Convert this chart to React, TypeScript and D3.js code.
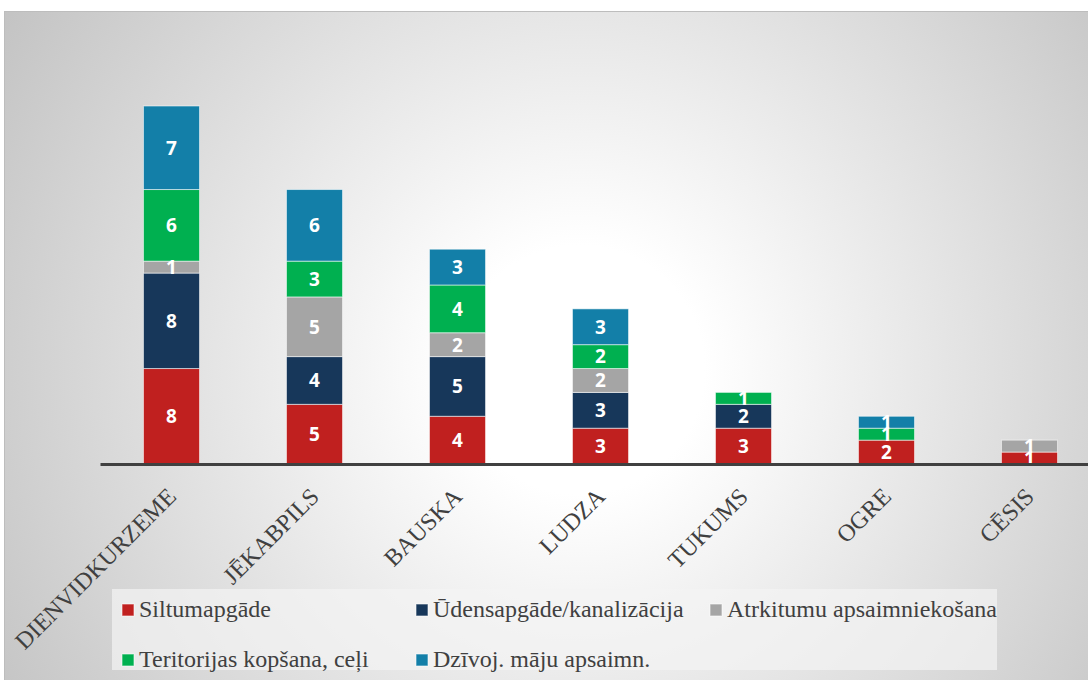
import { useEffect, useRef } from "react";
import * as d3 from "d3";

const categories = ["DIENVIDKURZEME", "JĒKABPILS", "BAUSKA", "LUDZA", "TUKUMS", "OGRE", "CĒSIS"];
const seriesNames = [
  "Siltumapgāde",
  "Ūdensapgāde/kanalizācija",
  "Atrkitumu apsaimniekošana",
  "Teritorijas kopšana, ceļi",
  "Dzīvoj. māju apsaimn.",
];
const siltumapgade = [8, 5, 4, 3, 3, 2, 1];
const udensapgade = [8, 4, 5, 3, 2, 0, 0];
const atkritumi = [1, 5, 2, 2, 0, 0, 1];
const teritorijas = [6, 3, 4, 2, 1, 1, 0];
const dzivojamas = [7, 6, 3, 3, 0, 1, 0];
const seriesColors = ["#C0201F", "#17375A", "#A5A5A5", "#00B050", "#137FA8"];

export default function App() {
  const svgRef = useRef<SVGSVGElement | null>(null);

  useEffect(() => {
    if (!svgRef.current) return;
    const svg = d3.select(svgRef.current);
    svg.selectAll("*").remove();

    const width = 1088;
    const height = 680;
    const axisY = 464;
    const values = [siltumapgade, udensapgade, atkritumi, teritorijas, dzivojamas];
    const rows = categories.map((name, i) => {
      const row: Record<string, number | string> = { name };
      seriesNames.forEach((s, k) => (row[s] = values[k][i]));
      return row;
    });

    // background with radial glow
    const defs = svg.append("defs");
    const grad = defs
      .append("radialGradient")
      .attr("id", "bg")
      .attr("gradientUnits", "userSpaceOnUse")
      .attr("cx", 580)
      .attr("cy", 370)
      .attr("r", 690);
    grad.append("stop").attr("offset", 0).attr("stop-color", "#ffffff");
    grad.append("stop").attr("offset", 0.18).attr("stop-color", "#ffffff");
    grad.append("stop").attr("offset", 1).attr("stop-color", "#c2c2c2");

    svg
      .append("rect")
      .attr("x", 4.5)
      .attr("y", 11.5)
      .attr("width", width - 4)
      .attr("height", height - 11)
      .attr("fill", "url(#bg)")
      .attr("stroke", "#bdbdbd")
      .attr("stroke-width", 1);

    const x = d3
      .scaleBand<string>()
      .domain(categories)
      .range([100, 1101])
      .paddingInner(0.608)
      .paddingOuter(0.304);
    const y = d3.scaleLinear().domain([0, 30]).range([axisY, 106]);

    const stacked = d3.stack<Record<string, number | string>>().keys(seriesNames)(rows as any);

    const layers = svg
      .append("g")
      .selectAll("g.layer")
      .data(stacked)
      .enter()
      .append("g")
      .attr("class", "layer")
      .attr("fill", (_, k) => seriesColors[k]);

    layers
      .selectAll("rect")
      .data((d) => d.filter((p) => p[1] - p[0] > 0))
      .enter()
      .append("rect")
      .attr("x", (p) => x(String(p.data.name)) ?? 0)
      .attr("y", (p) => y(p[1]))
      .attr("width", x.bandwidth())
      .attr("height", (p) => y(p[0]) - y(p[1]))
      .attr("stroke", "rgba(255,255,255,0.55)")
      .attr("stroke-width", 1);

    // value labels
    svg
      .append("g")
      .selectAll("g.lbl")
      .data(stacked)
      .enter()
      .append("g")
      .selectAll("text")
      .data((d) => d.filter((p) => p[1] - p[0] > 0))
      .enter()
      .append("text")
      .attr("x", (p) => (x(String(p.data.name)) ?? 0) + x.bandwidth() / 2)
      .attr("y", (p) => (y(p[0]) + y(p[1])) / 2)
      .attr("dy", "0.36em")
      .attr("text-anchor", "middle")
      .attr("fill", "#ffffff")
      .style("font-family", "'Open Sans', sans-serif")
      .style("font-weight", "700")
      .style("font-size", "19px")
      .text((p) => String(p[1] - p[0]));

    // category axis
    svg
      .append("g")
      .attr("transform", `translate(0,${axisY})`)
      .call(d3.axisBottom(x).tickSize(0).tickSizeOuter(0))
      .call((axis) => axis.select(".domain").attr("stroke", "#404040").attr("stroke-width", 3))
      .call((axis) =>
        axis
          .selectAll("text")
          .attr("x", 0)
          .attr("y", 0)
          .attr("dy", "0")
          .attr("text-anchor", "end")
          .attr("transform", "translate(6,34) rotate(-45)")
          .attr("fill", "#404040")
          .style("font-family", "'Liberation Serif', 'Times New Roman', serif")
          .style("font-size", "24px"),
      );

    // legend
    const legend = svg.append("g");
    legend
      .append("rect")
      .attr("x", 112)
      .attr("y", 589)
      .attr("width", 885)
      .attr("height", 81)
      .attr("fill", "#f4f4f4")
      .attr("opacity", 0.7);

    const legendCols = [122, 416, 710];
    const legendRows = [617, 667];
    const items = legend
      .selectAll("g.item")
      .data(seriesNames)
      .enter()
      .append("g")
      .attr("class", "item")
      .attr("transform", (_, i) => `translate(${legendCols[i % 3]},${legendRows[Math.floor(i / 3)]})`);

    items
      .append("rect")
      .attr("x", 0)
      .attr("y", -13)
      .attr("width", 12)
      .attr("height", 12)
      .attr("fill", (_, i) => seriesColors[i])
      .attr("stroke", "rgba(255,255,255,0.6)")
      .attr("stroke-width", 1);

    items
      .append("text")
      .attr("x", 17)
      .attr("y", 0)
      .attr("fill", "#404040")
      .style("font-family", "'Liberation Serif', 'Times New Roman', serif")
      .style("font-size", "24px")
      .text((d) => d);
  }, []);

  return (
    <svg
      ref={svgRef}
      width={1088}
      height={680}
      style={{ position: "absolute", left: 0, top: 0, display: "block" }}
    />
  );
}
